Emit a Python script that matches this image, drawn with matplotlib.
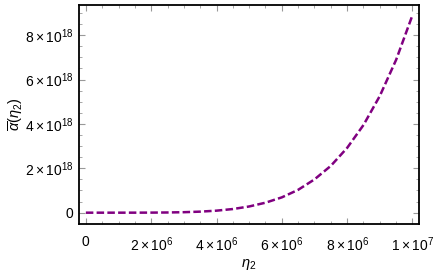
import matplotlib
matplotlib.use('Agg')
import matplotlib.pyplot as plt
import numpy as np

# values
eta2 = [0, 0.5e6, 1e6, 1.5e6, 2e6, 2.5e6, 3e6, 3.5e6, 4e6, 4.5e6, 5e6,
        5.5e6, 6e6, 6.5e6, 7e6, 7.5e6, 8e6, 8.5e6, 9e6, 9.5e6, 1e7]
alpha_bar = [0, 0.0, 0.0001e18, 0.0007e18, 0.003e18, 0.009e18, 0.022e18,
             0.047e18, 0.091e18, 0.164e18, 0.28e18, 0.45e18, 0.69e18,
             1.03e18, 1.50e18, 2.11e18, 2.92e18, 3.95e18, 5.26e18,
             6.89e18, 8.9e18]

xticks = [0, 2e6, 4e6, 6e6, 8e6, 1e7]
xticklabels = ['0', r'$2\times10^{6}$', r'$4\times10^{6}$', r'$6\times10^{6}$',
               r'$8\times10^{6}$', r'$1\times10^{7}$']
yticks = [0, 2e18, 4e18, 6e18, 8e18]
yticklabels = ['0', r'$2\times10^{18}$', r'$4\times10^{18}$',
               r'$6\times10^{18}$', r'$8\times10^{18}$']

plt.rcParams['font.family'] = ['Liberation Sans', 'DejaVu Sans']
plt.rcParams['mathtext.fontset'] = 'custom'
plt.rcParams['mathtext.rm'] = 'Liberation Sans'
plt.rcParams['mathtext.it'] = 'Liberation Sans:italic'

fig = plt.figure(figsize=(4.36, 2.73), dpi=100)
ax = fig.add_axes([0.1812, 0.1795, 0.961 - 0.1812, 0.9817 - 0.1795])

ax.plot(eta2, alpha_bar, color=(0.5, 0, 0.5), lw=1.8,
        linestyle=(0, (3, 1.3)), solid_capstyle='butt', dash_capstyle='butt')

ax.set_xlim(-0.21e6, 1.02e7)
ax.set_ylim(-0.51e18, 9.36e18)

ax.set_xticks(xticks)
ax.set_xticklabels(xticklabels)
ax.set_yticks(yticks)
ax.set_yticklabels(yticklabels)
ax.set_xticks(np.arange(0, 1.01e7, 0.5e6), minor=True)
ax.set_yticks(np.arange(0, 9.1e18, 0.5e18), minor=True)

ax.tick_params(which='both', direction='in', top=True, right=True,
               color='#999999', labelsize=10)
ax.tick_params(axis='x', which='major', pad=8)
ax.tick_params(axis='y', which='major', pad=4)
ax.tick_params(which='major', length=4, width=0.8)
ax.tick_params(which='minor', length=2, width=0.6)

for s in ax.spines.values():
    s.set_linewidth(1.3)
    s.set_color('black')

ax.set_xlabel(r'$\eta_2$', fontsize=10.5)
ax.xaxis.set_label_coords(0.5, -0.15)
ax.set_ylabel(r'$\overline{\alpha}(\eta_2)$', fontsize=10.5, labelpad=0)

fig.savefig('out.png', dpi=100)
